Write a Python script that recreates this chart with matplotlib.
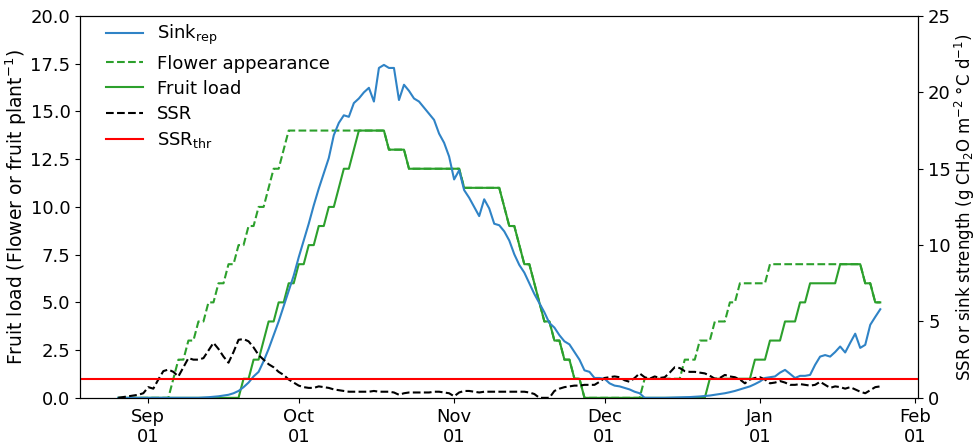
import matplotlib
matplotlib.use("Agg")
import matplotlib.pyplot as plt
import matplotlib.dates as mdates
import matplotlib.ticker as mticker
import pandas as pd

# Daily series, 26 Aug to 25 Jan (one row per month segment)
start_date = "2019-08-26"

sink_rep = [
    0, 0, 0, 0, 0, 0,
    0, 0, 0, 0, 0, 0, 0, 0, 0, 0, 0, 0.02, 0.04, 0.07, 0.1, 0.15, 0.2, 0.3, 0.45, 0.7,
    1.0, 1.4, 1.7, 2.4, 3.2, 4.1, 5.0, 6.0, 7.0, 8.0,
    9.2, 10.3, 11.4, 12.6, 13.7, 14.7, 15.7, 17.2, 18.0, 18.5, 18.4, 19.3, 19.6, 20.0, 20.3, 19.4,
    21.6, 21.8, 21.6, 21.6, 19.5, 20.5, 20.1, 19.6, 19.4, 19.0, 18.6, 18.2, 17.3, 16.7, 15.8,
    14.3, 14.9, 13.6, 13.1, 12.5, 11.9, 13.0, 12.4, 11.4, 11.3, 10.9, 10.3, 9.4, 8.7, 8.2,
    7.5, 6.8, 6.2, 5.6, 4.9, 4.6, 4.1, 3.7, 3.5, 3.0, 2.5, 1.8, 1.7, 1.3, 1.3,
    1.25, 0.95, 0.8, 0.75, 0.65, 0.55, 0.4, 0.3, 0, 0, 0, 0, 0, 0.01, 0.02, 0.03,
    0.04, 0.05, 0.07, 0.09, 0.12, 0.15, 0.2, 0.25, 0.3, 0.37, 0.45, 0.55, 0.65, 0.75, 0.9,
    1.07, 1.3, 1.35, 1.4, 1.65, 1.83, 1.57, 1.3, 1.44, 1.44, 1.5, 2.16, 2.7, 2.8, 2.7,
    3.0, 3.36, 2.97, 3.6, 4.2, 3.27, 3.47, 4.78, 5.3, 5.8,
]

flower_appearance = [
    0, 0, 0, 0, 0, 0,
    0, 0, 0, 0, 0, 1, 2, 2, 3, 3, 4, 4, 5, 5, 6, 6, 7, 7, 8, 8, 9, 9, 10, 10, 11, 12, 12, 13, 14, 14,
    14, 14, 14, 14, 14, 14, 14, 14, 14, 14, 14, 14, 14, 14, 14, 14, 14, 14, 13, 13, 13, 13,
    12, 12, 12, 12, 12, 12, 12, 12, 12,
    12, 12, 11, 11, 11, 11, 11, 11, 11, 11, 10, 9, 9, 8, 7, 7, 6, 5, 4, 4, 3, 3, 2, 2, 1, 1,
    0, 0, 0, 0,
    0, 0, 0, 0, 0, 0, 0, 0, 1, 1, 1, 1, 1, 1, 1, 1, 2, 2, 2, 3, 3, 3, 4, 4, 4, 5, 5, 6, 6, 6, 6,
    6, 6, 7, 7, 7, 7, 7, 7, 7, 7, 7, 7, 7, 7, 7, 7, 7, 7, 7, 7, 7, 6, 6, 5, 5,
]

fruit_load = [
    0, 0, 0, 0, 0, 0,
    0, 0, 0, 0, 0, 0, 0, 0, 0, 0, 0, 0, 0, 0, 0, 0, 0, 0, 0, 1, 1, 2, 2, 3, 4, 4, 5, 5, 6, 6,
    7, 7, 8, 8, 9, 9, 10, 10, 11, 12, 12, 13, 14, 14, 14, 14, 14, 14, 13, 13, 13, 13,
    12, 12, 12, 12, 12, 12, 12, 12, 12,
    12, 12, 11, 11, 11, 11, 11, 11, 11, 11, 10, 9, 9, 8, 7, 7, 6, 5, 4, 4, 3, 3, 2, 2, 1, 1,
    0, 0, 0, 0,
    0, 0, 0, 0, 0, 0, 0, 0, 0, 0, 0, 0, 0, 0, 0, 0, 0, 0, 0, 0, 0, 1, 1, 1, 1, 1, 1, 1, 1, 1, 2,
    2, 2, 3, 3, 3, 4, 4, 4, 5, 5, 6, 6, 6, 6, 6, 6, 7, 7, 7, 7, 7, 6, 6, 5, 5,
]

ssr = [
    0.0, 0.05, 0.1, 0.15, 0.2, 0.3,
    0.7, 0.6, 1.2, 1.75, 1.85, 1.7, 1.4, 2.0, 2.6, 2.5, 2.5, 2.6, 3.1, 3.6, 3.2, 2.7, 2.3, 3.0,
    3.8, 3.85, 3.7, 3.3, 2.8, 2.5, 2.2, 2.0, 1.7, 1.5, 1.2, 1.0,
    0.8, 0.7, 0.65, 0.65, 0.75, 0.7, 0.65, 0.55, 0.5, 0.45, 0.4, 0.4, 0.4, 0.4, 0.4, 0.45,
    0.4, 0.4, 0.4, 0.35, 0.2, 0.3, 0.35, 0.35, 0.35, 0.35, 0.35, 0.4, 0.4, 0.35, 0.3,
    0.1, 0.35, 0.45, 0.45, 0.4, 0.35, 0.4, 0.4, 0.4, 0.4, 0.4, 0.4, 0.4, 0.4, 0.4, 0.35, 0.25,
    0.0, 0.0, 0.0, 0.45, 0.6, 0.7, 0.75, 0.8, 0.8, 0.85, 0.85, 0.85, 1.05,
    1.3, 1.35, 1.4, 1.35, 1.15, 1.05, 1.3, 1.6, 1.35, 1.25, 1.4, 1.3, 1.35, 1.65, 2.0, 1.95,
    1.75, 1.7, 1.7, 1.65, 1.6, 1.45, 1.25, 1.3, 1.5, 1.4, 1.35, 1.2, 0.95, 1.2, 1.3,
    1.35, 1.2, 0.95, 1.0, 1.1, 1.0, 0.85, 0.85, 0.9, 0.85, 0.8, 0.85, 1.05, 0.85, 0.65,
    0.75, 0.7, 0.6, 0.7, 0.55, 0.4, 0.3, 0.5, 0.7, 0.75,
]

ssr_thr = 1.25

dates = pd.date_range(start_date, periods=len(sink_rep), freq="D")

plt.rcParams["font.family"] = ["DejaVu Sans"]
plt.rcParams["font.size"] = 13

fig = plt.figure(figsize=(9.77, 4.45), dpi=100)
ax = fig.add_axes([0.082, 0.106, 0.858, 0.858])
ax2 = ax.twinx()

l_flower, = ax.plot(dates, flower_appearance, color="tab:green", ls="--", lw=1.5,
                    label="Flower appearance")
l_fruit, = ax.plot(dates, fruit_load, color="tab:green", ls="-", lw=1.5, label="Fruit load")
l_sink, = ax2.plot(dates, sink_rep, color="#2f83c6", lw=1.5, label="Sink$_{\\mathrm{rep}}$")
l_ssr, = ax2.plot(dates, ssr, color="black", ls="--", lw=1.5, label="SSR")
l_thr = ax2.axhline(ssr_thr, color="red", lw=1.5, label="SSR$_{\\mathrm{thr}}$")

ax.set_ylim(0, 20)
ax2.set_ylim(0, 25)
ax.set_yticks([0, 2.5, 5, 7.5, 10, 12.5, 15, 17.5, 20])
ax.yaxis.set_major_formatter(mticker.FormatStrFormatter("%.1f"))
ax2.set_yticks([0, 5, 10, 15, 20, 25])

ax.xaxis.set_major_locator(mdates.MonthLocator())
ax.xaxis.set_major_formatter(mdates.DateFormatter("%b\n%d"))

ax.set_ylabel("Fruit load (Flower or fruit plant$^{-1}$)", fontsize=13.5, labelpad=1)
ax2.set_ylabel("SSR or sink strength (g CH$_2$O m$^{-2}$ °C d$^{-1}$)", fontsize=12,
               labelpad=1)

ax.legend(handles=[l_sink, l_flower, l_fruit, l_ssr, l_thr], loc="upper left",
          bbox_to_anchor=(0.012, 1.024), frameon=False, fontsize=13, labelspacing=0.4)

fig.savefig("out.png", dpi=100)
